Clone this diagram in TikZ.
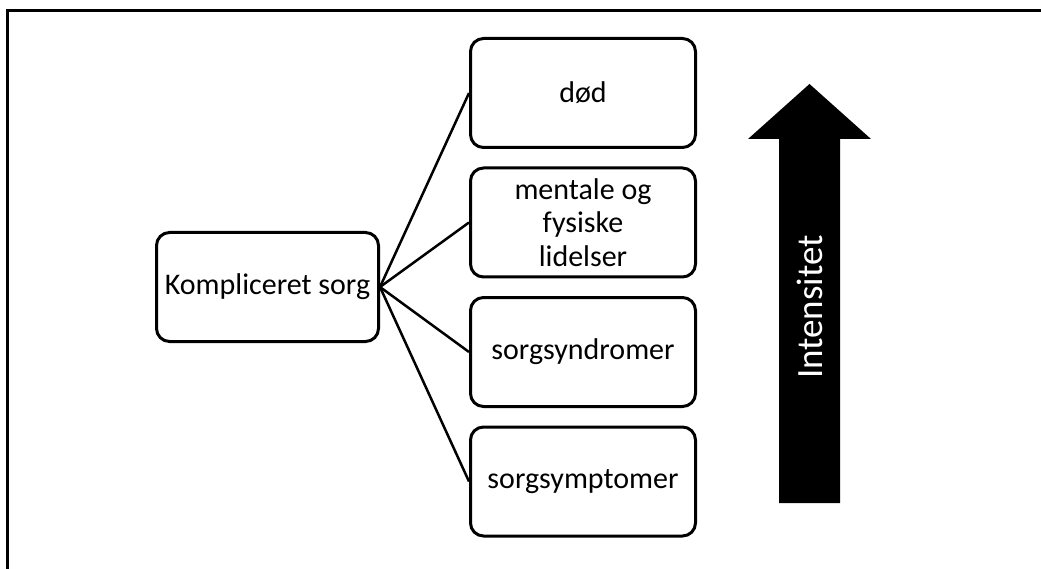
\documentclass[tikz,border=0pt]{standalone}
\usepackage{fontspec}
\setmainfont{Carlito}
\begin{document}
\begin{tikzpicture}[x=1pt,y=-1pt,
  box/.style={draw=black, line width=3pt, rounded corners=13pt, fill=white,
    minimum width=225pt, minimum height=109pt, inner sep=2pt, align=center,
    font=\fontsize{30}{33.5}\selectfont},
  rbox/.style={box, minimum width=225pt},
  conn/.style={draw=black, line width=2.5pt},
  frame/.style={draw=black, line width=2.5pt}]
\useasboundingbox (0,0) rectangle (1041,569);
\draw[frame] (1041,10.5) -- (7.5,10.5) -- (7.5,569);
\node[box, minimum width=222pt] (k) at (267.5,287) {Kompliceret sorg};
\node[rbox] (d) at (583,93) {død};
\node[rbox] (m) at (583,222.5) {mentale og\\fysiske\\lidelser};
\node[rbox] (sd) at (583,352) {sorgsyndromer};
\node[rbox] (sp) at (583,481.5) {sorgsymptomer};
\foreach \t in {d,m,sd,sp} \draw[conn] (k.east) -- (\t.west);
\fill[black] (779,503) -- (779,139) -- (748,139) -- (809.5,84) -- (871,139) -- (840,139) -- (840,503) -- cycle;
\node[text=white, rotate=90, font=\fontsize{37}{40}\selectfont, inner sep=0pt] (int) at (809.5,307) {Intensitet};
\end{tikzpicture}
\end{document}
